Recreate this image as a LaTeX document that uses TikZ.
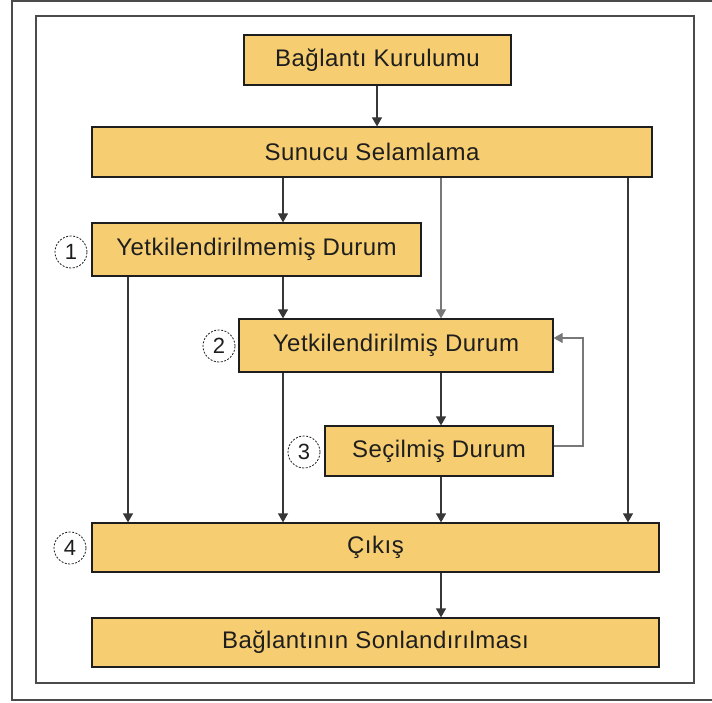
\documentclass[tikz,border=0pt]{standalone}
\usepackage{fontspec}
\setmainfont{Liberation Sans}[LetterSpace=2]
\usetikzlibrary{arrows.meta}
\definecolor{boxfill}{RGB}{246,205,112}
\definecolor{ink}{RGB}{30,30,30}
\definecolor{wire}{RGB}{55,55,55}
\definecolor{wirelight}{RGB}{120,120,120}
\tikzset{
  statebox/.style={draw=ink, line width=1.2pt, fill=boxfill, inner sep=0pt,
    text=ink, font=\fontsize{24}{27}\selectfont, anchor=center},
  flow/.style={draw=wire, line width=1.2pt, -{Triangle[width=10pt,length=9pt]}},
  flowlight/.style={flow, draw=wirelight},
  marker/.style={circle, draw=ink, dashed, dash pattern=on 2pt off 1.5pt,
    line width=0.8pt, minimum size=32pt, inner sep=0pt, text=ink,
    font=\fontsize{22}{22}\selectfont},
  frame/.style={draw=ink!80, line width=1.2pt}
}
\begin{document}
\begin{tikzpicture}[x=1pt,y=-1pt]
  \useasboundingbox (0,0) rectangle (712,703);
  % double frame
  \draw[frame] (720,1) -- (12,1) -- (12,700) -- (720,700);
  \draw[frame] (36,16) rectangle (694,683);

  % state boxes
  \node[statebox, minimum width=267pt, minimum height=50pt] (bk) at (377.5,60) {Bağlantı Kurulumu};
  \node[statebox, minimum width=560pt, minimum height=50pt] (ss) at (372,152) {Sunucu Selamlama};
  \node[statebox, minimum width=329pt, minimum height=53pt] (ym) at (256.5,249.5) {Yetkilendirilmemiş Durum};
  \node[statebox, minimum width=314pt, minimum height=53pt] (yd) at (396,345.5) {Yetkilendirilmiş Durum};
  \node[statebox, minimum width=228pt, minimum height=50pt] (sd) at (439,451) {Seçilmiş Durum};
  \node[statebox, minimum width=567pt, minimum height=49pt] (ck) at (375.5,547.5) {Çıkış};
  \node[statebox, minimum width=567pt, minimum height=49pt] (bs) at (375.5,642.5) {Bağlantının Sonlandırılması};

  % numbered markers
  \node[marker] (m1) at (71,252) {1};
  \node[marker] (m2) at (219,346) {2};
  \node[marker] (m3) at (304,452) {3};
  \node[marker] (m4) at (70,548) {4};

  % transitions
  \draw[flow] (bk.south -| 377,0) -- (ss.north -| 377,0);
  \draw[flow] (ss.south -| 283,0) -- (ym.north -| 283,0);
  \draw[flowlight] (ss.south -| 441,0) -- (yd.north -| 441,0);
  \draw[flow] (ss.south -| 628,0) -- (ck.north -| 628,0);
  \draw[flow] (ym.south -| 128,0) -- (ck.north -| 128,0);
  \draw[flow] (ym.south -| 283,0) -- (yd.north -| 283,0);
  \draw[flow] (yd.south -| 283,0) -- (ck.north -| 283,0);
  \draw[flow] (yd.south -| 441,0) -- (sd.north -| 441,0);
  \draw[flow] (sd.south -| 441,0) -- (ck.north -| 441,0);
  \draw[flowlight] (sd.east |- 0,446) -| (583,338) -- (yd.east |- 0,338);
  \draw[flow] (ck.south -| 441,0) -- (bs.north -| 441,0);
\end{tikzpicture}
\end{document}
